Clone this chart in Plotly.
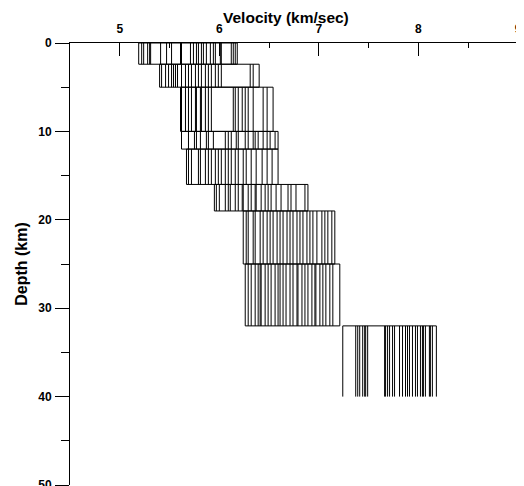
import plotly.graph_objects as go

# Layer boundaries (km)
layer_top = [0.0, 2.4, 5.0, 10.0, 12.0, 16.0, 19.0, 25.0, 32.0]
layer_bottom = [2.4, 5.0, 10.0, 12.0, 16.0, 19.0, 25.0, 32.0, 40.0]

# Velocities (km/sec) of the individual models within each layer
vel_layer1 = [5.19, 5.22, 5.24, 5.28, 5.30, 5.31, 5.41, 5.47, 5.52, 5.61, 5.62, 5.71, 5.74,
              5.77, 5.79, 5.82, 5.84, 5.87, 5.91, 5.94, 5.96, 6.01, 6.02, 6.12, 6.14, 6.16, 6.18]
vel_layer2 = [5.40, 5.42, 5.46, 5.49, 5.52, 5.54, 5.56, 5.58, 5.62, 5.66, 5.69, 5.72, 5.76,
              5.79, 5.82, 5.86, 5.89, 5.92, 5.96, 5.99, 6.02, 6.31, 6.34, 6.40]
vel_layer3 = [5.61, 5.62, 5.66, 5.69, 5.72, 5.76, 5.77, 5.81, 5.82, 5.86, 5.89, 5.92, 6.14,
              6.16, 6.19, 6.23, 6.26, 6.29, 6.34, 6.44, 6.48, 6.54]
vel_layer4 = [5.62, 5.69, 5.75, 5.77, 5.81, 5.87, 5.89, 5.94, 6.06, 6.09, 6.12, 6.17, 6.19,
              6.26, 6.29, 6.34, 6.36, 6.39, 6.44, 6.48, 6.51, 6.56, 6.59]
vel_layer5 = [5.67, 5.69, 5.72, 5.79, 5.81, 5.86, 5.89, 5.92, 5.96, 5.99, 6.02, 6.06, 6.09,
              6.12, 6.16, 6.19, 6.24, 6.27, 6.32, 6.37, 6.43, 6.48, 6.53, 6.59]
vel_layer6 = [5.95, 5.97, 6.00, 6.06, 6.09, 6.11, 6.16, 6.19, 6.23, 6.24, 6.29, 6.32, 6.36,
              6.37, 6.42, 6.46, 6.49, 6.52, 6.57, 6.62, 6.69, 6.72, 6.77, 6.86, 6.89]
vel_layer7 = [6.24, 6.27, 6.29, 6.34, 6.36, 6.41, 6.44, 6.48, 6.51, 6.54, 6.58, 6.61, 6.64,
              6.68, 6.71, 6.74, 6.78, 6.81, 6.84, 6.88, 6.91, 6.94, 6.98, 7.03, 7.06, 7.09,
              7.13, 7.16]
vel_layer8 = [6.26, 6.29, 6.32, 6.36, 6.39, 6.41, 6.42, 6.46, 6.49, 6.52, 6.56, 6.59, 6.61,
              6.64, 6.67, 6.71, 6.74, 6.78, 6.79, 6.83, 6.86, 6.89, 6.93, 6.96, 6.97, 7.01,
              7.04, 7.07, 7.11, 7.14, 7.21]
vel_layer9 = [7.24, 7.37, 7.39, 7.41, 7.44, 7.46, 7.47, 7.49, 7.66, 7.67, 7.69, 7.71, 7.74,
              7.76, 7.81, 7.84, 7.87, 7.89, 7.91, 7.94, 7.97, 7.99, 8.02, 8.04, 8.05, 8.07,
              8.11, 8.12, 8.14, 8.18]

layers = [vel_layer1, vel_layer2, vel_layer3, vel_layer4, vel_layer5,
          vel_layer6, vel_layer7, vel_layer8, vel_layer9]

x_ticks = [5, 6, 7, 8, 9]
y_ticks = [0, 10, 20, 30, 40, 50]

fig = go.Figure()
n = len(layers)
for i, vels in enumerate(layers):
    top, bot = layer_top[i], layer_bottom[i]
    xs, ys = [], []
    for v in vels:
        xs += [v, v, None]
        ys += [top, bot, None]
    vmin, vmax = min(vels), max(vels)
    xs += [vmin, vmax, None]
    ys += [top, top, None]
    if i < n - 1:
        xs += [vmin, vmax, None]
        ys += [bot, bot, None]
    fig.add_trace(go.Scatter(x=xs, y=ys, mode="lines",
                             line=dict(color="black", width=1),
                             hoverinfo="skip", showlegend=False))

font = dict(family="Liberation Sans, Arial, sans-serif", size=12, color="black", weight="bold")

# page body has an 8px default margin, so the figure is sized 8px smaller
fig.update_layout(
    width=516, height=478,
    margin=dict(l=61.6, r=5.5, t=35, b=1),
    paper_bgcolor="white", plot_bgcolor="white",
    font=font,
    xaxis=dict(
        side="top", range=[4.5, 9], tickvals=x_ticks,
        ticks="inside", ticklen=13, tickwidth=1, tickcolor="black",
        minor=dict(dtick=0.5, tick0=4.5, ticks="inside", ticklen=5, tickcolor="black"),
        showline=True, linecolor="black", linewidth=1,
        showgrid=False, zeroline=False, automargin=False,
        tickfont=dict(size=12, weight="bold"),
        ticklabelstandoff=4,
        ticklabeloverflow="allow",
    ),
    yaxis=dict(
        range=[50, 0], tickvals=y_ticks,
        ticks="outside", ticklen=14, tickwidth=1, tickcolor="black",
        minor=dict(dtick=5, tick0=0, ticks="outside", ticklen=8, tickcolor="black"),
        showline=True, linecolor="black", linewidth=1,
        showgrid=False, zeroline=False, automargin=False,
        title=dict(text="Depth (km)", font=dict(size=16, weight="bold"), standoff=6),
        tickfont=dict(size=12, weight="bold"),
        ticklabelstandoff=1,
        ticklabeloverflow="allow",
    ),
    annotations=[dict(
        text="Velocity (km/sec)", xref="paper", yref="paper",
        x=0.482, y=1.0588, xanchor="center", yanchor="middle",
        showarrow=False, font=dict(size=15.5, weight="bold"),
    )],
)

fig.write_html("out.html")
